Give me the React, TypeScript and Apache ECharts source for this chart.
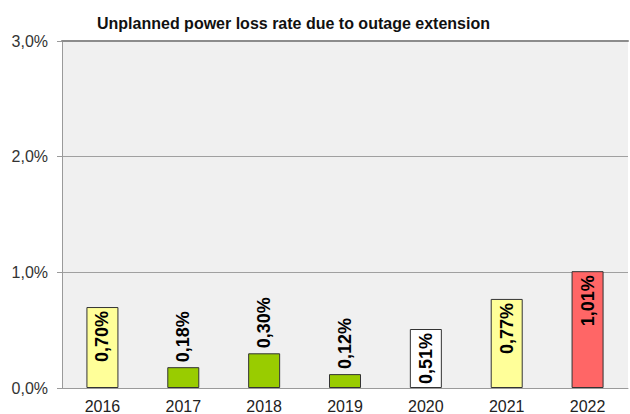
import React, { useEffect, useRef } from "react";
import * as echarts from "echarts";

const categories = ["2016", "2017", "2018", "2019", "2020", "2021", "2022"];
const values = [0.7, 0.18, 0.3, 0.12, 0.51, 0.77, 1.01];
const barColors = ["#ffff99", "#99cc00", "#99cc00", "#99cc00", "#ffffff", "#ffff99", "#ff6666"];
const labelInside = [true, false, false, false, true, true, true];
const yTicks = [0, 1, 2, 3];

const fmt = (v: number, d: number) => v.toFixed(d).replace(".", ",") + "%";

export default function App() {
  const ref = useRef<HTMLDivElement>(null);
  useEffect(() => {
    if (!ref.current) return;
    const chart = echarts.init(ref.current, null, { renderer: "svg" });
    const font = "'Liberation Sans', Arial, sans-serif";
    chart.setOption({
      animation: false,
      title: {
        text: "Unplanned power loss rate due to outage extension",
        left: 92,
        top: 10,
        textStyle: { fontFamily: font, fontSize: 16, fontWeight: "bold", color: "#111" },
      },
      grid: {
        left: 62,
        right: 2,
        top: 41,
        bottom: 26,
        show: true,
        backgroundColor: "#f0f0f0",
        borderWidth: 0,
      },
      xAxis: [
        {
          type: "category",
          data: categories,
          axisTick: { show: false },
          axisLine: { lineStyle: { color: "#9a9a9a", width: 1 } },
          axisLabel: { fontFamily: font, fontSize: 16, color: "#222", margin: 10 },
        },
        {
          type: "category",
          data: categories,
          position: "top",
          axisTick: { show: false },
          axisLabel: { show: false },
          axisLine: { show: true, lineStyle: { color: "#8c8c8c", width: 2 } },
        },
      ],
      yAxis: {
        type: "value",
        min: yTicks[0],
        max: yTicks[yTicks.length - 1],
        interval: 1,
        axisLine: { show: true, lineStyle: { color: "#9a9a9a", width: 1 } },
        axisTick: { show: true, length: 5, lineStyle: { color: "#9a9a9a" } },
        splitLine: { lineStyle: { color: "#a0a0a0", width: 1 } },
        axisLabel: {
          fontFamily: font,
          fontSize: 16,
          color: "#333",
          margin: 14,
          formatter: (v: number) => fmt(v, 1),
        },
      },
      series: [
        {
          type: "bar",
          barWidth: 32,
          xAxisIndex: 0,
          data: values.map((v, i) => ({
            value: v,
            itemStyle: { color: barColors[i], borderColor: "#333", borderWidth: 1 },
            label: labelInside[i]
              ? { position: "insideTop", align: "right", verticalAlign: "middle", distance: 4 }
              : { position: "top", align: "left", verticalAlign: "middle", distance: 5 },
          })),
          label: {
            show: true,
            rotate: 90,
            fontFamily: font,
            fontSize: 18,
            fontWeight: "bold",
            color: "#000",
            formatter: (p: any) => fmt(p.value, 2),
          },
        },
      ],
    });
    return () => chart.dispose();
  }, []);
  return (
    <div
      ref={ref}
      style={{ position: "fixed", left: 0, top: 0, width: 630, height: 414, background: "#fff" }}
    />
  );
}
